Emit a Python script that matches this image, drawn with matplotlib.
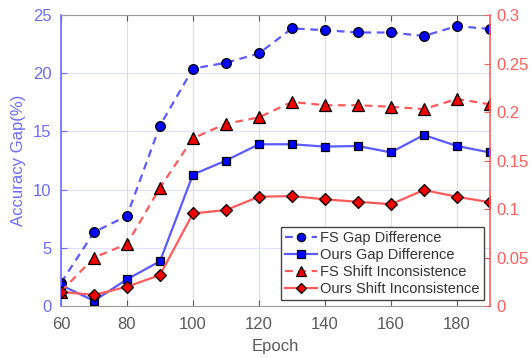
import matplotlib
matplotlib.use("Agg")
import matplotlib.pyplot as plt

plt.rcParams['font.family'] = ['Liberation Sans', 'DejaVu Sans']

epochs = [60, 70, 80, 90, 100, 110, 120, 130, 140, 150, 160, 170, 180, 190]
fs_gap = [2.0, 6.35, 7.75, 15.5, 20.4, 20.9, 21.7, 23.85, 23.7, 23.5, 23.5, 23.2, 24.05, 23.8]
ours_gap = [1.8, 0.45, 2.3, 3.85, 11.3, 12.5, 13.9, 13.9, 13.7, 13.75, 13.2, 14.7, 13.75, 13.2]
fs_shift = [0.015, 0.050, 0.064, 0.122, 0.173, 0.188, 0.1945, 0.2105, 0.207, 0.207, 0.2055, 0.203, 0.2135, 0.208]
ours_shift = [0.0147, 0.0115, 0.020, 0.032, 0.0955, 0.099, 0.1127, 0.1134, 0.110, 0.1075, 0.105, 0.1196, 0.1127, 0.107]

left_ticks = [0, 5, 10, 15, 20, 25]
right_ticks = [0, 0.05, 0.1, 0.15, 0.2, 0.25, 0.3]
right_labels = ['0', '0.05', '0.1', '0.15', '0.2', '0.25', '0.3']
x_ticks = [60, 80, 100, 120, 140, 160, 180]

blue_line = '#5a5aff'
red_line = '#ff5a5a'
blue_txt = '#6b6bff'
red_txt = '#ff5c5c'
gray_txt = '#5a5a5a'

fig = plt.figure(figsize=(5.32, 3.58), dpi=100)
ax = fig.add_axes([0.1147, 0.145, 0.806, 0.813])
ax2 = ax.twinx()

l1, = ax.plot(epochs, fs_gap, linestyle=(0, (3.5, 2.5)), color=blue_line, lw=1.6,
              marker='o', ms=7, mfc='#0000ff', mec='black', mew=0.9, label='FS Gap Difference')
l2, = ax.plot(epochs, ours_gap, linestyle='-', color=blue_line, lw=1.6,
              marker='s', ms=6, mfc='#0000ff', mec='black', mew=0.9, label='Ours Gap Difference')
l3, = ax2.plot(epochs, fs_shift, linestyle=(0, (3.5, 2.5)), color=red_line, lw=1.6,
               marker='^', ms=8, mfc='#ee0000', mec='black', mew=0.9, label='FS Shift Inconsistence')
l4, = ax2.plot(epochs, ours_shift, linestyle='-', color=red_line, lw=1.6,
               marker='D', ms=6.5, mfc='#ee0000', mec='black', mew=0.9, label='Ours Shift Inconsistence')

ax.set_xlim(60, 190)
ax.set_ylim(0, 25)
ax2.set_ylim(0, 0.3)
ax.set_xticks(x_ticks)
ax.set_yticks(left_ticks)
ax2.set_yticks(right_ticks)
ax2.set_yticklabels(right_labels)

ax.tick_params(axis='x', direction='in', labelsize=12, colors=gray_txt, length=4, pad=8)
ax.tick_params(axis='y', direction='in', labelsize=12, colors=blue_txt, length=4, pad=7)
ax2.tick_params(axis='y', direction='in', labelsize=12, colors=red_txt, length=4, pad=5)
ax.tick_params(axis='x', which='both', top=True)

ax.xaxis.grid(True, color='#dcdcdc', lw=0.8)
ax.yaxis.grid(True, color='#e0e0ff', lw=0.8)
ax.set_axisbelow(True)

for s in ['top', 'bottom']:
    ax.spines[s].set_color('#9a9a9a')
    ax2.spines[s].set_visible(False)
ax.spines['left'].set_color(blue_txt)
ax.spines['left'].set_linewidth(1.2)
ax2.spines['left'].set_visible(False)
ax2.spines['right'].set_color(red_txt)
ax2.spines['right'].set_linewidth(1.2)
ax.spines['right'].set_visible(False)

ax.set_ylabel('Accuracy Gap(%)', fontsize=12, color=blue_txt, labelpad=5)
ax.set_xlabel('Epoch', fontsize=12, color=gray_txt, labelpad=5)

leg = ax2.legend(handles=[l1, l2, l3, l4], loc='lower right', fontsize=10.5,
                 frameon=True, fancybox=False, edgecolor='#444444', framealpha=1,
                 handlelength=2.2, handletextpad=0.2, borderpad=0.3, labelspacing=0.2,
                 borderaxespad=0.4, markerscale=0.85)
for t in leg.get_texts():
    t.set_color('#333333')

fig.savefig('out.png', dpi=100)
